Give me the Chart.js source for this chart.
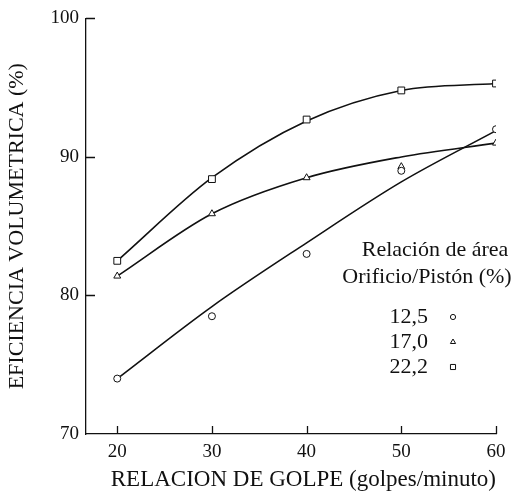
<!DOCTYPE html>
<html>
<head>
<meta charset="utf-8">
<script src="https://cdn.jsdelivr.net/npm/chart.js"></script>
<style>
html,body{margin:0;padding:0;background:#fff;}
#wrap{position:relative;width:519px;height:496px;}
</style>
</head>
<body>
<div id="wrap"><canvas id="c" width="519" height="496"></canvas></div>
<script>
// ---- data ----
const strokeRates = [20, 30, 40, 50, 60];              // golpes/minuto
const seriesLabels = ['12,5', '17,0', '22,2'];          // Orificio/Pistón (%)
const measured125 = [74.0, 78.5, 83.0, 89.0, 92.0];
const measured170 = [81.4, 85.9, 88.5, 89.3, 91.0];
const measured222 = [82.5, 88.4, 92.7, 94.8, 95.3];
const fitted125  = [74.0, 79.2, 83.8, 88.2, 91.9];
const fitted170  = [81.4, 85.9, 88.5, 90.0, 91.0];
const fitted222  = [82.5, 88.5, 92.6, 94.8, 95.3];
const xTickValues = [20, 30, 40, 50, 60];
const yTickValues = [70, 80, 90, 100];
const legendTitle = ['Relación de área', 'Orificio/Pistón (%)'];
const xTitle = 'RELACION DE GOLPE (golpes/minuto)';
const yTitle = 'EFICIENCIA VOLUMETRICA (%)';

const SERIF = '"Liberation Serif", "DejaVu Serif", serif';
const pointStyles = ['circle', 'triangle', 'rect'];
const pointRadii = [3.5, 4, 4.8];

const toPts = (ys) => strokeRates.map((x, i) => ({x: x, y: ys[i]}));
const measured = [measured125, measured170, measured222];
const fitted = [fitted125, fitted170, fitted222];

const datasets = [];
fitted.forEach((ys, i) => {
  datasets.push({
    label: 'fit ' + seriesLabels[i],
    data: toPts(ys),
    showLine: true,
    cubicInterpolationMode: 'monotone',
    borderColor: '#111',
    borderWidth: 1.6,
    pointRadius: 0,
    fill: false,
    order: 2
  });
});
measured.forEach((ys, i) => {
  datasets.push({
    label: seriesLabels[i],
    data: toPts(ys),
    showLine: false,
    pointStyle: pointStyles[i],
    pointRadius: pointRadii[i],
    pointBorderWidth: 1,
    pointBorderColor: '#111',
    pointBackgroundColor: '#fff',
    order: 1
  });
});

// inward tick marks
const innerTicks = {
  id: 'innerTicks',
  afterDraw(chart) {
    const ctx = chart.ctx, xs = chart.scales.x, ys = chart.scales.y;
    ctx.save();
    ctx.strokeStyle = '#111';
    ctx.lineWidth = 1.3;
    ctx.beginPath();
    yTickValues.forEach(v => {
      if (v === ys.min) return;
      const y = Math.round(ys.getPixelForValue(v)) + 0.5;
      ctx.moveTo(xs.left, y); ctx.lineTo(xs.left + 9, y);
    });
    xTickValues.forEach(v => {
      const x = Math.round(xs.getPixelForValue(v)) + 0.5;
      ctx.moveTo(x, ys.bottom); ctx.lineTo(x, ys.bottom - 8);
    });
    ctx.stroke();
    ctx.restore();
  }
};

// custom legend: heading + "value  marker" rows
const customLegend = {
  id: 'customLegend',
  afterDraw(chart) {
    const ctx = chart.ctx;
    ctx.save();
    ctx.fillStyle = '#111';
    ctx.font = '22px ' + SERIF;
    ctx.textAlign = 'center';
    ctx.textBaseline = 'middle';
    ctx.fillText(legendTitle[0], 435, 250);
    ctx.fillText(legendTitle[1], 427, 277);
    ctx.textAlign = 'right';
    const rowY = [317, 342, 367];
    seriesLabels.forEach((lab, i) => {
      ctx.fillStyle = '#111';
      ctx.fillText(lab, 428, rowY[i]);
      const opts = {pointStyle: pointStyles[i], radius: [2.6, 3, 3.6][i], borderWidth: 1, rotation: 0};
      ctx.strokeStyle = '#111';
      ctx.fillStyle = '#fff';
      ctx.lineWidth = 1;
      if (Chart.helpers && Chart.helpers.drawPoint) {
        Chart.helpers.drawPoint(ctx, opts, 453, rowY[i]);
      }
    });
    ctx.restore();
  }
};

new Chart(document.getElementById('c'), {
  type: 'scatter',
  data: {datasets: datasets},
  options: {
    responsive: false,
    animation: false,
    devicePixelRatio: 1,
    layout: {padding: {top: 15, right: 23, bottom: 0, left: 0}},
    plugins: {legend: {display: false}, tooltip: {enabled: false}},
    scales: {
      x: {
        type: 'linear',
        min: 16.7, max: 60,
        afterBuildTicks: (s) => { s.ticks = xTickValues.map(v => ({value: v})); },
        afterFit: (s) => { s.height = 62; },
        grid: {display: false, drawTicks: false},
        border: {display: true, color: '#111', width: 1.3},
        ticks: {color: '#111', font: {family: SERIF, size: 19}, padding: 7, maxRotation: 0},
        title: {display: true, text: xTitle, align: 'end', color: '#111',
                font: {family: SERIF, size: 23}, padding: {top: 0, bottom: 2}}
      },
      y: {
        type: 'linear',
        min: 70, max: 100,
        afterBuildTicks: (s) => { s.ticks = yTickValues.map(v => ({value: v})); },
        afterFit: (s) => { s.width = 86; },
        grid: {display: false, drawTicks: false},
        border: {display: true, color: '#111', width: 1.3},
        ticks: {color: '#111', font: {family: SERIF, size: 19}, padding: 7},
        title: {display: true, text: yTitle, color: '#111',
                font: {family: SERIF, size: 22}, padding: {top: 4, bottom: 0}}
      }
    }
  },
  plugins: [innerTicks, customLegend]
});
</script>
</body>
</html>
